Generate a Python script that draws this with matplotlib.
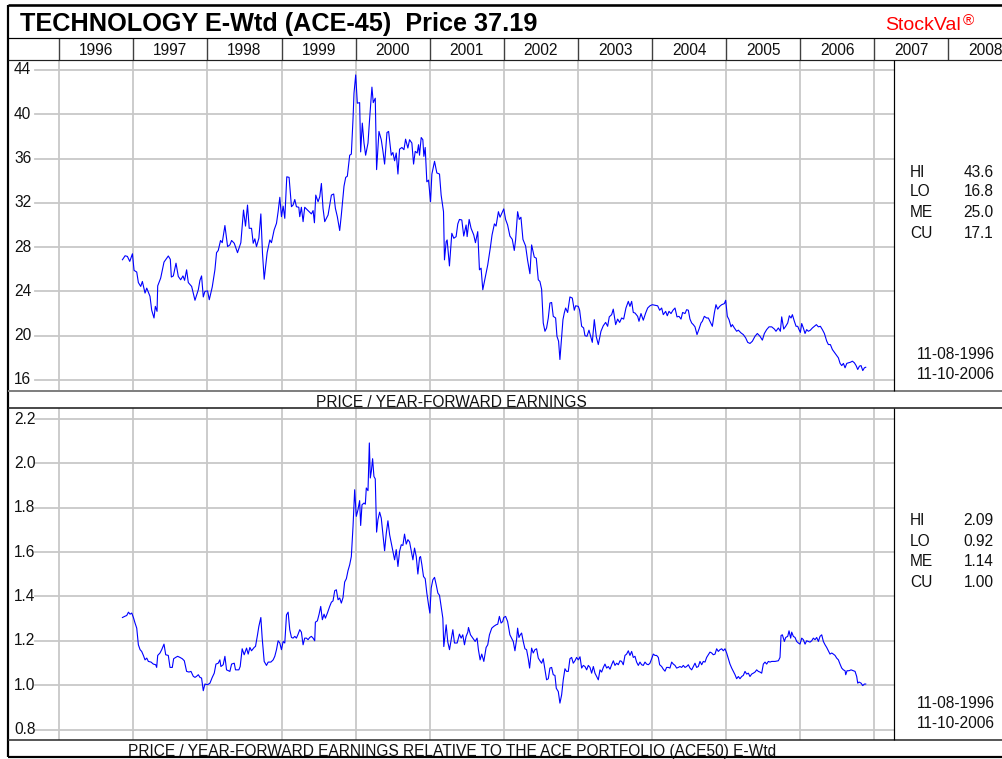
import matplotlib
matplotlib.use('Agg')
import matplotlib.pyplot as plt
from matplotlib.transforms import blended_transform_factory

plt.rcParams['font.family'] = ['Liberation Sans', 'DejaVu Sans']

# ---------------- data ----------------
title = "TECHNOLOGY E-Wtd (ACE-45)  Price 37.19"
brand = "StockVal"
header_years = list(range(1996, 2009))
grid_years = list(range(1996, 2008))

top_ticks = [16, 20, 24, 28, 32, 36, 40, 44]
top_label = "PRICE / YEAR-FORWARD EARNINGS"
top_stats = [("HI", "43.6"), ("LO", "16.8"), ("ME", "25.0"), ("CU", "17.1")]

bot_ticks = [0.8, 1.0, 1.2, 1.4, 1.6, 1.8, 2.0, 2.2]
bot_label = "PRICE / YEAR-FORWARD EARNINGS RELATIVE TO THE ACE PORTFOLIO (ACE50) E-Wtd"
bot_stats = [("HI", "2.09"), ("LO", "0.92"), ("ME", "1.14"), ("CU", "1.00")]

date_range = ["11-08-1996", "11-10-2006"]

top_years = [
    1996.852, 1996.888, 1996.919, 1996.951, 1996.987, 1997.009, 1997.045, 1997.067, 1997.099, 1997.121,
    1997.157, 1997.180, 1997.224, 1997.247, 1997.278, 1997.296, 1997.319, 1997.328, 1997.368, 1997.413,
    1997.471, 1997.498, 1997.512, 1997.539, 1997.575, 1997.606, 1997.638, 1997.669, 1997.691, 1997.718,
    1997.741, 1997.786, 1997.831, 1997.876, 1997.898, 1997.920, 1997.943, 1997.965, 1998.001, 1998.024,
    1998.064, 1998.100, 1998.122, 1998.145, 1998.176, 1998.199, 1998.235, 1998.271, 1998.302, 1998.325,
    1998.361, 1998.405, 1998.450, 1998.486, 1998.513, 1998.540, 1998.563, 1998.594, 1998.617, 1998.639,
    1998.661, 1998.693, 1998.720, 1998.742, 1998.765, 1998.805, 1998.841, 1998.863, 1998.899, 1998.931,
    1998.953, 1998.976, 1998.998, 1999.021, 1999.043, 1999.070, 1999.101, 1999.133, 1999.155, 1999.178,
    1999.200, 1999.232, 1999.245, 1999.267, 1999.290, 1999.312, 1999.357, 1999.402, 1999.425, 1999.443,
    1999.461, 1999.492, 1999.515, 1999.537, 1999.559, 1999.582, 1999.627, 1999.672, 1999.703, 1999.726,
    1999.752, 1999.784, 1999.806, 1999.842, 1999.865, 1999.887, 1999.919, 1999.941, 1999.964, 1999.977,
    2000.000, 2000.022, 2000.053, 2000.067, 2000.089, 2000.112, 2000.134, 2000.166, 2000.188, 2000.219,
    2000.237, 2000.264, 2000.282, 2000.314, 2000.345, 2000.368, 2000.390, 2000.422, 2000.444, 2000.480,
    2000.502, 2000.525, 2000.547, 2000.570, 2000.592, 2000.624, 2000.651, 2000.673, 2000.704, 2000.727,
    2000.758, 2000.781, 2000.803, 2000.830, 2000.848, 2000.861, 2000.884, 2000.906, 2000.920, 2000.938,
    2000.960, 2000.983, 2001.010, 2001.028, 2001.064, 2001.095, 2001.131, 2001.153, 2001.185, 2001.198,
    2001.221, 2001.234, 2001.265, 2001.297, 2001.324, 2001.355, 2001.378, 2001.400, 2001.432, 2001.458,
    2001.490, 2001.504, 2001.531, 2001.557, 2001.593, 2001.616, 2001.647, 2001.670, 2001.692, 2001.715,
    2001.746, 2001.782, 2001.818, 2001.840, 2001.872, 2001.894, 2001.926, 2001.948, 2001.975, 2001.998,
    2002.023, 2002.050, 2002.081, 2002.113, 2002.140, 2002.158, 2002.185, 2002.207, 2002.230, 2002.257,
    2002.293, 2002.320, 2002.351, 2002.374, 2002.410, 2002.437, 2002.464, 2002.486, 2002.509, 2002.531,
    2002.554, 2002.576, 2002.599, 2002.621, 2002.644, 2002.666, 2002.698, 2002.716, 2002.738, 2002.756,
    2002.779, 2002.797, 2002.815, 2002.833, 2002.860, 2002.891, 2002.923, 2002.950, 2002.968, 2003.004,
    2003.022, 2003.049, 2003.076, 2003.094, 2003.121, 2003.148, 2003.193, 2003.220, 2003.247, 2003.274,
    2003.310, 2003.341, 2003.373, 2003.400, 2003.422, 2003.454, 2003.476, 2003.508, 2003.535, 2003.562,
    2003.589, 2003.616, 2003.647, 2003.679, 2003.701, 2003.724, 2003.746, 2003.769, 2003.805, 2003.823,
    2003.850, 2003.881, 2003.913, 2003.940, 2003.971, 2004.003, 2004.039, 2004.075, 2004.102, 2004.129,
    2004.151, 2004.183, 2004.205, 2004.228, 2004.255, 2004.282, 2004.309, 2004.336, 2004.363, 2004.390,
    2004.412, 2004.444, 2004.466, 2004.489, 2004.511, 2004.534, 2004.556, 2004.579, 2004.606, 2004.633,
    2004.660, 2004.678, 2004.705, 2004.736, 2004.759, 2004.781, 2004.813, 2004.840, 2004.862, 2004.885,
    2004.912, 2004.939, 2004.975, 2004.993, 2005.015, 2005.038, 2005.065, 2005.083, 2005.110, 2005.141,
    2005.164, 2005.200, 2005.231, 2005.263, 2005.290, 2005.321, 2005.353, 2005.389, 2005.420, 2005.456,
    2005.488, 2005.515, 2005.546, 2005.578, 2005.614, 2005.650, 2005.672, 2005.704, 2005.731, 2005.749,
    2005.776, 2005.803, 2005.830, 2005.852, 2005.875, 2005.893, 2005.920, 2005.943, 2005.965, 2005.983,
    2006.001, 2006.019, 2006.041, 2006.064, 2006.086, 2006.109, 2006.136, 2006.163, 2006.190, 2006.217,
    2006.244, 2006.271, 2006.298, 2006.325, 2006.357, 2006.379, 2006.406, 2006.433, 2006.460, 2006.492,
    2006.514, 2006.537, 2006.559, 2006.582, 2006.604, 2006.627, 2006.649, 2006.676, 2006.703, 2006.730,
    2006.753, 2006.775, 2006.798, 2006.820, 2006.843, 2006.865, 2006.883,
]
top_pe = [
    26.86, 27.22, 27.16, 26.71, 27.40, 25.90, 25.75, 24.80, 24.45, 24.90,
    23.85, 24.30, 23.55, 22.30, 21.60, 22.65, 22.20, 24.50, 25.20, 26.65,
    27.20, 26.90, 25.30, 25.40, 26.55, 25.35, 25.05, 25.40, 25.00, 25.95,
    24.80, 24.45, 23.20, 24.15, 25.00, 25.40, 23.50, 24.00, 24.05, 23.25,
    24.40, 25.95, 27.50, 27.70, 28.60, 28.40, 29.95, 28.05, 28.20, 28.60,
    28.35, 27.50, 28.40, 31.35, 29.90, 31.80, 29.70, 29.70, 28.35, 28.75,
    28.05, 28.80, 31.00, 27.45, 25.10, 27.50, 28.65, 28.40, 29.55, 30.15,
    31.20, 32.50, 30.75, 31.70, 30.60, 34.35, 34.30, 31.65, 31.80, 32.30,
    31.65, 31.60, 30.75, 31.60, 30.30, 31.60, 31.30, 31.00, 31.30, 30.20,
    32.70, 32.10, 32.55, 33.75, 31.50, 30.30, 30.90, 32.70, 32.80, 31.50,
    30.75, 29.50, 30.90, 33.50, 34.30, 34.40, 36.30, 36.40, 39.60, 41.90,
    43.55, 41.00, 41.05, 36.60, 39.20, 37.40, 36.30, 37.40, 39.60, 42.45,
    41.05, 41.45, 35.00, 38.45, 37.70, 36.65, 35.50, 38.35, 38.45, 36.30,
    36.55, 35.80, 36.50, 34.60, 36.85, 37.00, 36.80, 37.75, 36.95, 37.70,
    37.40, 35.50, 36.65, 36.50, 37.25, 36.30, 37.90, 37.70, 36.20, 37.00,
    33.90, 34.05, 32.10, 34.60, 35.75, 34.70, 34.60, 32.70, 31.20, 26.85,
    28.50, 28.65, 26.30, 29.25, 28.80, 28.95, 30.10, 30.50, 30.45, 29.00,
    30.00, 28.95, 30.50, 29.70, 29.10, 28.40, 29.40, 25.95, 26.10, 24.15,
    25.20, 26.40, 28.00, 29.10, 30.10, 29.90, 31.20, 30.70, 31.10, 31.45,
    30.50, 30.00, 29.00, 28.70, 27.70, 28.65, 31.20, 30.50, 30.70, 28.70,
    28.10, 26.80, 25.60, 28.20, 27.10, 27.00, 25.05, 24.90, 24.20, 21.15,
    20.40, 20.70, 21.60, 22.95, 23.00, 21.75, 21.60, 19.95, 19.50, 17.85,
    19.80, 21.45, 22.05, 22.50, 22.10, 23.50, 23.40, 22.30, 22.70, 22.65,
    22.30, 20.85, 20.70, 20.00, 19.95, 20.50, 19.40, 21.45, 19.90, 19.20,
    20.40, 20.90, 21.20, 20.85, 21.70, 21.90, 22.40, 21.00, 21.50, 21.20,
    21.60, 21.50, 22.50, 23.10, 22.65, 23.10, 22.10, 22.05, 21.75, 21.30,
    22.00, 21.40, 22.05, 22.50, 22.70, 22.80, 22.75, 22.70, 22.30, 22.50,
    21.90, 22.20, 21.80, 22.20, 22.00, 22.30, 22.50, 21.70, 21.75, 21.50,
    22.10, 22.00, 22.35, 22.30, 21.50, 21.15, 21.00, 20.80, 20.10, 20.60,
    21.15, 21.30, 21.75, 21.60, 21.60, 21.30, 20.85, 22.05, 22.80, 22.40,
    22.65, 22.80, 22.90, 23.20, 21.75, 21.45, 20.80, 21.00, 20.70, 20.40,
    20.50, 20.25, 20.10, 19.80, 19.40, 19.30, 19.50, 19.95, 20.20, 19.95,
    19.60, 20.20, 20.55, 20.80, 20.80, 20.60, 20.40, 20.70, 20.40, 21.70,
    20.60, 20.85, 21.15, 21.80, 21.60, 21.90, 21.30, 20.85, 20.85, 20.55,
    20.30, 21.10, 20.70, 20.20, 20.55, 20.40, 20.50, 20.70, 20.85, 21.00,
    20.80, 20.85, 20.55, 20.20, 19.50, 19.20, 19.20, 18.75, 18.50, 18.20,
    18.00, 17.50, 17.30, 17.50, 17.10, 17.50, 17.55, 17.60, 17.70, 17.55,
    17.30, 16.95, 17.25, 17.30, 16.85, 17.10, 17.15,
]

rel_years = [
    1996.852, 1996.888, 1996.910, 1996.933, 1996.955, 1996.978, 1997.000, 1997.022, 1997.045, 1997.067,
    1997.090, 1997.112, 1997.135, 1997.157, 1997.180, 1997.202, 1997.238, 1997.269, 1997.301, 1997.314,
    1997.328, 1997.359, 1997.382, 1997.413, 1997.436, 1997.471, 1997.494, 1997.525, 1997.543, 1997.570,
    1997.597, 1997.629, 1997.660, 1997.687, 1997.718, 1997.750, 1997.777, 1997.808, 1997.831, 1997.853,
    1997.876, 1997.898, 1997.920, 1997.943, 1997.965, 1998.001, 1998.033, 1998.064, 1998.091, 1998.114,
    1998.145, 1998.167, 1998.181, 1998.212, 1998.235, 1998.257, 1998.302, 1998.325, 1998.361, 1998.378,
    1998.423, 1998.441, 1998.468, 1998.495, 1998.527, 1998.549, 1998.572, 1998.594, 1998.630, 1998.648,
    1998.675, 1998.693, 1998.720, 1998.738, 1998.765, 1998.796, 1998.819, 1998.855, 1998.886, 1998.908,
    1998.931, 1998.953, 1998.976, 1998.998, 1999.021, 1999.043, 1999.066, 1999.088, 1999.110, 1999.133,
    1999.155, 1999.178, 1999.200, 1999.223, 1999.245, 1999.267, 1999.290, 1999.312, 1999.335, 1999.357,
    1999.380, 1999.402, 1999.425, 1999.447, 1999.456, 1999.483, 1999.506, 1999.528, 1999.550, 1999.573,
    1999.591, 1999.618, 1999.649, 1999.672, 1999.694, 1999.717, 1999.739, 1999.762, 1999.784, 1999.806,
    1999.829, 1999.851, 1999.874, 1999.896, 1999.919, 1999.941, 1999.964, 1999.986, 2000.008, 2000.031,
    2000.053, 2000.067, 2000.085, 2000.112, 2000.130, 2000.143, 2000.166, 2000.184, 2000.197, 2000.211,
    2000.228, 2000.246, 2000.264, 2000.282, 2000.300, 2000.323, 2000.345, 2000.368, 2000.390, 2000.413,
    2000.435, 2000.458, 2000.480, 2000.502, 2000.525, 2000.547, 2000.570, 2000.592, 2000.615, 2000.637,
    2000.659, 2000.682, 2000.704, 2000.727, 2000.749, 2000.772, 2000.794, 2000.817, 2000.839, 2000.862,
    2000.875, 2000.893, 2000.915, 2000.938, 2000.960, 2000.983, 2001.001, 2001.019, 2001.041, 2001.064,
    2001.086, 2001.109, 2001.131, 2001.153, 2001.176, 2001.189, 2001.207, 2001.221, 2001.243, 2001.266,
    2001.288, 2001.311, 2001.333, 2001.369, 2001.400, 2001.423, 2001.445, 2001.468, 2001.490, 2001.513,
    2001.522, 2001.549, 2001.580, 2001.612, 2001.638, 2001.656, 2001.679, 2001.701, 2001.729, 2001.760,
    2001.782, 2001.805, 2001.836, 2001.863, 2001.894, 2001.917, 2001.939, 2001.962, 2001.984, 2001.998,
    2002.023, 2002.050, 2002.081, 2002.104, 2002.126, 2002.149, 2002.171, 2002.185, 2002.203, 2002.221,
    2002.239, 2002.261, 2002.284, 2002.306, 2002.329, 2002.347, 2002.374, 2002.396, 2002.419, 2002.441,
    2002.464, 2002.486, 2002.509, 2002.531, 2002.554, 2002.576, 2002.599, 2002.621, 2002.644, 2002.666,
    2002.689, 2002.707, 2002.734, 2002.756, 2002.779, 2002.801, 2002.824, 2002.846, 2002.869, 2002.891,
    2002.914, 2002.936, 2002.959, 2002.981, 2003.004, 2003.027, 2003.049, 2003.072, 2003.094, 2003.117,
    2003.139, 2003.162, 2003.184, 2003.207, 2003.229, 2003.252, 2003.274, 2003.297, 2003.319, 2003.342,
    2003.364, 2003.387, 2003.409, 2003.432, 2003.454, 2003.477, 2003.499, 2003.522, 2003.544, 2003.567,
    2003.589, 2003.611, 2003.634, 2003.656, 2003.679, 2003.701, 2003.724, 2003.746, 2003.769, 2003.791,
    2003.814, 2003.836, 2003.859, 2003.881, 2003.904, 2003.926, 2003.949, 2003.971, 2003.994, 2004.016,
    2004.039, 2004.061, 2004.084, 2004.102, 2004.129, 2004.151, 2004.174, 2004.196, 2004.219, 2004.241,
    2004.264, 2004.286, 2004.309, 2004.331, 2004.354, 2004.376, 2004.399, 2004.421, 2004.444, 2004.466,
    2004.489, 2004.511, 2004.534, 2004.556, 2004.579, 2004.601, 2004.624, 2004.646, 2004.669, 2004.691,
    2004.714, 2004.736, 2004.759, 2004.781, 2004.804, 2004.826, 2004.849, 2004.871, 2004.894, 2004.916,
    2004.939, 2004.961, 2004.984, 2005.006, 2005.029, 2005.051, 2005.074, 2005.096, 2005.119, 2005.141,
    2005.164, 2005.186, 2005.209, 2005.231, 2005.254, 2005.276, 2005.299, 2005.321, 2005.344, 2005.366,
    2005.389, 2005.411, 2005.434, 2005.456, 2005.479, 2005.501, 2005.524, 2005.546, 2005.569, 2005.591,
    2005.614, 2005.659, 2005.704, 2005.726, 2005.740, 2005.758, 2005.785, 2005.803, 2005.830, 2005.848,
    2005.870, 2005.884, 2005.906, 2005.929, 2005.951, 2005.974, 2005.996, 2006.019, 2006.041, 2006.064,
    2006.086, 2006.109, 2006.131, 2006.154, 2006.176, 2006.199, 2006.221, 2006.244, 2006.266, 2006.289,
    2006.311, 2006.334, 2006.356, 2006.379, 2006.401, 2006.424, 2006.446, 2006.469, 2006.491, 2006.514,
    2006.536, 2006.559, 2006.581, 2006.604, 2006.613, 2006.631, 2006.658, 2006.685, 2006.716, 2006.739,
    2006.761, 2006.775, 2006.793, 2006.820, 2006.842, 2006.865, 2006.883,
]
rel_pe = [
    1.305, 1.311, 1.314, 1.329, 1.320, 1.325, 1.305, 1.280, 1.257, 1.182,
    1.160, 1.152, 1.134, 1.114, 1.122, 1.107, 1.104, 1.095, 1.092, 1.080,
    1.134, 1.145, 1.160, 1.185, 1.137, 1.134, 1.080, 1.080, 1.119, 1.125,
    1.130, 1.125, 1.119, 1.110, 1.062, 1.059, 1.062, 1.040, 1.035, 1.040,
    1.047, 1.035, 1.032, 0.975, 1.005, 1.002, 1.009, 1.035, 1.054, 1.095,
    1.099, 1.114, 1.084, 1.092, 1.130, 1.069, 1.062, 1.095, 1.099, 1.069,
    1.069, 1.084, 1.164, 1.137, 1.167, 1.140, 1.170, 1.155, 1.170, 1.175,
    1.227, 1.265, 1.305, 1.212, 1.107, 1.089, 1.104, 1.104, 1.114, 1.130,
    1.160, 1.200, 1.190, 1.160, 1.197, 1.190, 1.317, 1.329, 1.250, 1.215,
    1.212, 1.220, 1.212, 1.230, 1.250, 1.239, 1.182, 1.212, 1.212, 1.205,
    1.215, 1.220, 1.212, 1.200, 1.284, 1.290, 1.320, 1.355, 1.295, 1.320,
    1.302, 1.325, 1.355, 1.374, 1.380, 1.426, 1.430, 1.385, 1.393, 1.370,
    1.395, 1.465, 1.480, 1.516, 1.543, 1.580, 1.716, 1.881, 1.761, 1.791,
    1.832, 1.720, 1.813, 1.821, 1.816, 1.889, 1.877, 2.092, 1.934, 1.964,
    2.021, 1.941, 1.930, 1.690, 1.746, 1.780, 1.753, 1.678, 1.606, 1.686,
    1.741, 1.678, 1.641, 1.606, 1.565, 1.611, 1.535, 1.603, 1.633, 1.630,
    1.681, 1.636, 1.656, 1.646, 1.606, 1.565, 1.618, 1.580, 1.501, 1.576,
    1.580, 1.543, 1.490, 1.480, 1.415, 1.362, 1.325, 1.438, 1.475, 1.486,
    1.453, 1.415, 1.405, 1.355, 1.302, 1.174, 1.227, 1.272, 1.194, 1.160,
    1.205, 1.250, 1.190, 1.190, 1.230, 1.212, 1.227, 1.182, 1.220, 1.239,
    1.260, 1.227, 1.212, 1.197, 1.212, 1.160, 1.114, 1.140, 1.107, 1.170,
    1.182, 1.227, 1.257, 1.265, 1.272, 1.275, 1.310, 1.280, 1.287, 1.305,
    1.310, 1.287, 1.227, 1.212, 1.197, 1.155, 1.205, 1.257, 1.215, 1.227,
    1.235, 1.197, 1.164, 1.160, 1.119, 1.077, 1.167, 1.145, 1.160, 1.164,
    1.122, 1.110, 1.099, 1.119, 1.069, 1.024, 1.029, 1.077, 1.080, 1.047,
    1.044, 0.986, 0.971, 0.919, 0.956, 1.024, 1.074, 1.062, 1.062, 1.119,
    1.125, 1.099, 1.110, 1.125, 1.114, 1.128, 1.077, 1.089, 1.084, 1.069,
    1.089, 1.080, 1.054, 1.084, 1.054, 1.039, 1.024, 1.069, 1.059, 1.080,
    1.095, 1.077, 1.084, 1.072, 1.092, 1.110, 1.089, 1.099, 1.092, 1.110,
    1.107, 1.092, 1.134, 1.140, 1.155, 1.134, 1.152, 1.125, 1.130, 1.104,
    1.089, 1.104, 1.092, 1.089, 1.104, 1.095, 1.092, 1.099, 1.119, 1.140,
    1.134, 1.134, 1.125, 1.092, 1.084, 1.072, 1.063, 1.080, 1.080, 1.077,
    1.104, 1.095, 1.089, 1.077, 1.080, 1.084, 1.080, 1.089, 1.080, 1.084,
    1.092, 1.077, 1.069, 1.084, 1.099, 1.080, 1.084, 1.107, 1.092, 1.107,
    1.104, 1.125, 1.137, 1.149, 1.145, 1.137, 1.140, 1.164, 1.152, 1.160,
    1.164, 1.155, 1.164, 1.145, 1.119, 1.095, 1.077, 1.062, 1.047, 1.029,
    1.039, 1.029, 1.039, 1.044, 1.062, 1.050, 1.054, 1.039, 1.050, 1.054,
    1.059, 1.069, 1.062, 1.059, 1.054, 1.095, 1.104, 1.095, 1.107, 1.104,
    1.107, 1.107, 1.110, 1.125, 1.224, 1.227, 1.197, 1.215, 1.220, 1.245,
    1.212, 1.239, 1.220, 1.215, 1.197, 1.190, 1.185, 1.212, 1.205, 1.185,
    1.200, 1.197, 1.194, 1.200, 1.212, 1.205, 1.215, 1.197, 1.220, 1.227,
    1.197, 1.182, 1.170, 1.155, 1.140, 1.145, 1.140, 1.134, 1.122, 1.114,
    1.095, 1.077, 1.069, 1.065, 1.047, 1.065, 1.065, 1.069, 1.065, 1.062,
    1.039, 1.009, 1.014, 1.009, 0.998, 1.005, 1.005,
]

# ---------------- layout ----------------
W, H = 1003, 759
LINE_BLUE = '#0000ff'
GRID = '#c8c8c8'
PX_1996, PX_PER_YEAR = 59.3, 74.1
FS = 11.2


def px_year(px):
    return 1996 + (px - PX_1996) / PX_PER_YEAR


def rect(x0, y0, x1, y1):
    return [x0 / W, 1 - y1 / H, (x1 - x0) / W, (y1 - y0) / H]


fig = plt.figure(figsize=(W / 100, H / 100), dpi=100)
fig.patch.set_facecolor('white')

PLOT_L, PLOT_R = 8, 894
GRID_START = (35 - PLOT_L) / (PLOT_R - PLOT_L)
LABEL_X = (14 - PLOT_L) / (PLOT_R - PLOT_L)


def make_panel(ytop, ybot, ylim, ticks, fmt, xs, ys):
    ax = fig.add_axes(rect(PLOT_L, ytop, PLOT_R, ybot))
    ax.set_xlim(px_year(PLOT_L), px_year(PLOT_R))
    ax.set_ylim(*ylim)
    ax.axis('off')
    for yr in grid_years:
        ax.axvline(yr, color=GRID, lw=1.3, zorder=1)
    for t in ticks:
        ax.axhline(t, xmin=GRID_START, xmax=1, color=GRID, lw=1.3, zorder=1)
    tr = blended_transform_factory(ax.transAxes, ax.transData)
    for t in ticks:
        ax.text(LABEL_X, t, fmt.format(t), transform=tr, ha='left', va='center',
                fontsize=FS, color='#111111')
    ax.plot(xs, ys, color=LINE_BLUE, lw=0.8, zorder=3)
    return ax


make_panel(60, 391, (15.006, 44.9), top_ticks, "{:d}", top_years, top_pe)
make_panel(408, 740, (0.7527, 2.2496), bot_ticks, "{:.1f}", rel_years, rel_pe)

# header row with year labels
hx = fig.add_axes(rect(PLOT_L, 38, W, 60))
hx.set_xlim(px_year(PLOT_L), px_year(W))
hx.set_ylim(0, 1)
hx.axis('off')
for yr in header_years:
    hx.axvline(yr, color='#404040', lw=1.0)
htr = blended_transform_factory(hx.transData, hx.transAxes)
for yr in header_years:
    hx.text(yr + 0.5, (60 - 55.0) / 22, str(yr), transform=htr, ha='center',
            va='baseline', fontsize=FS, color='#111111')

# overlay for frame lines and free text (pixel coordinates)
ov = fig.add_axes([0, 0, 1, 1])
ov.set_xlim(0, W)
ov.set_ylim(H, 0)
ov.axis('off')
ov.patch.set_alpha(0)
ov.set_zorder(10)

PXW = 0.72  # 1 px in points
frame = [
    ((8, W), (5, 5), 2.6, 'black'),
    ((8, 8), (5, 757), 2.2, 'black'),
    ((8, W), (38, 38), 1.2, 'black'),
    ((8, W), (60, 60), 1.2, '#202020'),
    ((8, W), (391, 391), 2.0, '#808080'),
    ((8, W), (408, 408), 1.6, '#202020'),
    ((8, W), (740, 740), 1.6, '#303030'),
    ((8, W), (757, 757), 2.2, 'black'),
    ((894, 894), (60, 391), 1.2, 'black'),
    ((894, 894), (408, 740), 1.2, 'black'),
]
for xs_, ys_, lw, c in frame:
    ov.plot(xs_, ys_, color=c, lw=lw * PXW, solid_capstyle='butt')

ov.text(20.5, 31.3, title, fontsize=18.2, fontweight='bold', ha='left',
        va='baseline', color='black')
ov.text(885, 29.5, brand, fontsize=14, ha='left', va='baseline', color='#ff0000')
ov.text(962.5, 25.5, "\u00ae", fontsize=11, ha='left', va='baseline', color='#ff0000')

ov.text(451.5, 406.6, top_label, fontsize=FS, ha='center', va='baseline', color='#111111')
ov.text(452, 755.8, bot_label, fontsize=FS, ha='center', va='baseline', color='#111111')

for (lab, val), yc in zip(top_stats, [171.3, 191.0, 211.7, 232.7]):
    ov.text(910, yc + 5.5, lab, fontsize=FS, ha='left', va='baseline', color='#111111')
    ov.text(993.5, yc + 5.5, val, fontsize=FS, ha='right', va='baseline', color='#111111')
for (lab, val), yc in zip(bot_stats, [519.3, 540.7, 561.0, 581.7]):
    ov.text(910, yc + 5.5, lab, fontsize=FS, ha='left', va='baseline', color='#111111')
    ov.text(993.5, yc + 5.5, val, fontsize=FS, ha='right', va='baseline', color='#111111')
for d, yc in zip(date_range, [353.3, 373.3]):
    ov.text(994.5, yc + 5.5, d, fontsize=FS, ha='right', va='baseline', color='#111111')
for d, yc in zip(date_range, [702.7, 722.7]):
    ov.text(994.5, yc + 5.5, d, fontsize=FS, ha='right', va='baseline', color='#111111')

fig.savefig('out.png', dpi=100, facecolor='white')
